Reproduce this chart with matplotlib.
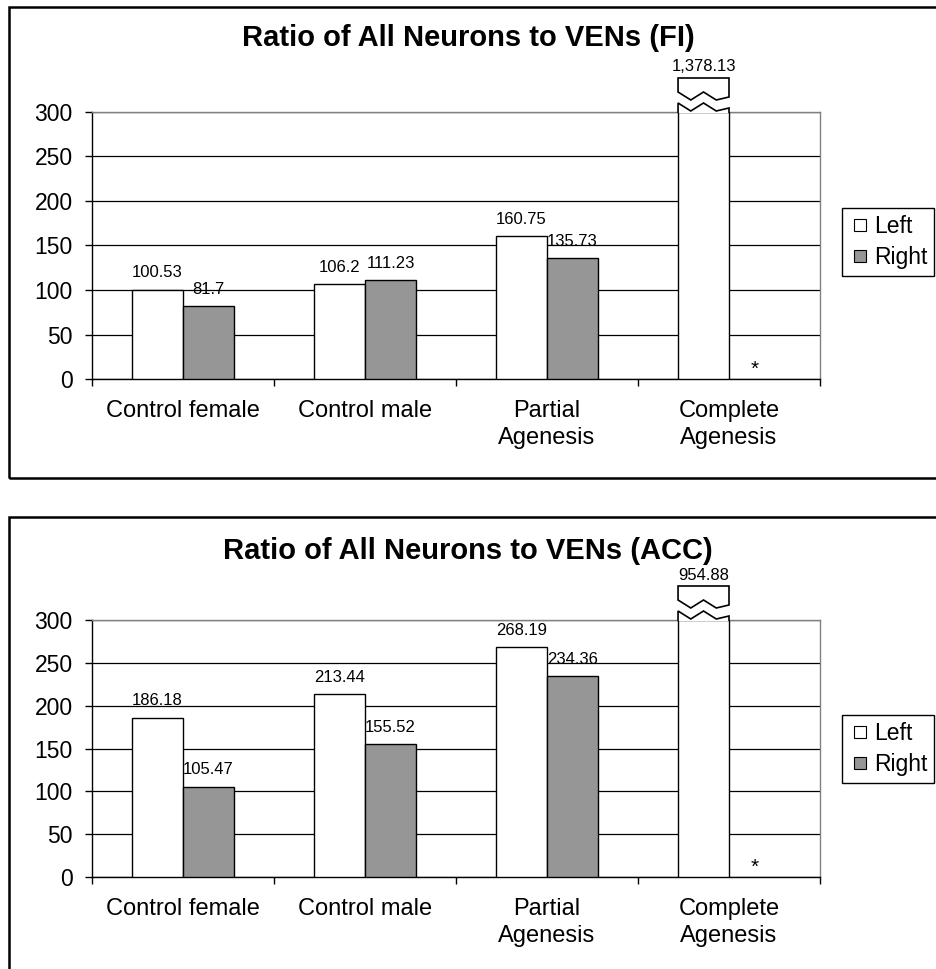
import numpy as np
import matplotlib
matplotlib.use("Agg")
import matplotlib.pyplot as plt
from matplotlib.patches import Rectangle, Polygon
from matplotlib.lines import Line2D

plt.rcParams['font.family'] = 'Liberation Sans'

# Ratio of all neurons to VENs, left / right hemisphere
categories = ["Control female", "Control male", "Partial\nAgenesis", "Complete\nAgenesis"]
fi_left = [100.53, 106.2, 160.75, 1378.13]
fi_right = [81.7, 111.23, 135.73, np.nan]
acc_left = [186.18, 213.44, 268.19, 954.88]
acc_right = [105.47, 155.52, 234.36, np.nan]
y_ticks = [0, 50, 100, 150, 200, 250, 300]

W, H = 936, 969
LEFT_COLOR = 'white'
RIGHT_COLOR = '#969696'
BAR_W = 0.28
Y_MAX = 300

fig = plt.figure(figsize=(W / 100, H / 100), dpi=100)


def px_rect(x0, x1, top, bottom):
    return [x0 / W, 1 - bottom / H, (x1 - x0) / W, (bottom - top) / H]


def draw_break(ax, xc, value, px_per_unit):
    """Bar running past the axis top: zigzag break plus a capped box."""
    u = 1.0 / px_per_unit  # data units per pixel
    x0, x1 = xc - BAR_W / 2, xc + BAR_W / 2
    n = 4
    xs = np.linspace(x0, x1, n + 1)
    # lower piece: bar continues up to the lower zigzag
    low = [Y_MAX + (9 if i % 2 == 0 else 1) * u for i in range(n + 1)]
    low[-1] = Y_MAX + 4 * u
    lower = [(x0, Y_MAX - 1 * u)] + list(zip(xs, low)) + [(x1, Y_MAX - 1 * u)]
    ax.add_patch(Polygon(lower, closed=False, facecolor='white', edgecolor='black',
                         lw=1.2, clip_on=False, zorder=4))
    # upper piece: from the upper zigzag up to a flat cap
    top_y = Y_MAX + 34 * u
    up = [Y_MAX + (20 if i % 2 == 0 else 12) * u for i in range(n + 1)]
    up[-1] = Y_MAX + 15 * u
    upper = [(x1, up[-1]), (x1, top_y), (x0, top_y), (x0, up[0])] + list(zip(xs, up))
    ax.add_patch(Polygon(upper, closed=True, facecolor='white', edgecolor='black',
                         lw=1.2, clip_on=False, zorder=4))
    ax.text(xc, top_y + 11 * u, f"{value:,}", ha='center', va='center',
            fontsize=12, clip_on=False, zorder=5)


def draw_panel(left_vals, right_vals, title, ax_px, title_y, box_top, box_bottom, legend_top):
    x0, x1, top, bottom = ax_px
    ax = fig.add_axes(px_rect(x0, x1, top, bottom))
    px_per_unit = (bottom - top) / Y_MAX
    x = np.arange(len(categories))

    for i in range(len(categories)):
        lv, rv = left_vals[i], right_vals[i]
        ax.bar(x[i] - BAR_W / 2, min(lv, Y_MAX), BAR_W, color=LEFT_COLOR,
               edgecolor='black', linewidth=1.0, zorder=3)
        if lv > Y_MAX:
            draw_break(ax, x[i] - BAR_W / 2, lv, px_per_unit)
        else:
            ax.annotate(f"{lv:,}", (x[i] - BAR_W / 2, lv), xytext=(0, 12),
                        textcoords='offset points', ha='center', va='center',
                        fontsize=12, zorder=5)
        if np.isnan(rv):
            ax.annotate("*", (x[i] + BAR_W / 2, 0), xytext=(0, 7),
                        textcoords='offset points', ha='center', va='center',
                        fontsize=15, zorder=5)
        else:
            ax.bar(x[i] + BAR_W / 2, rv, BAR_W, color=RIGHT_COLOR,
                   edgecolor='black', linewidth=1.0, zorder=3)
            ax.annotate(f"{rv:,}", (x[i] + BAR_W / 2, rv), xytext=(0, 12),
                        textcoords='offset points', ha='center', va='center',
                        fontsize=12, zorder=5)

    ax.set_xlim(-0.5, len(categories) - 0.5)
    ax.set_ylim(0, Y_MAX)
    ax.set_yticks(y_ticks)
    ax.tick_params(axis='y', direction='out', length=5, width=1.0, pad=9,
                   labelsize=16.5, colors='black')
    ax.yaxis.grid(True, color='black', linewidth=0.9, zorder=1)
    ax.set_axisbelow(True)

    # group boundaries get tick marks, group centres get labels
    ax.set_xticks(np.arange(len(categories) + 1) - 0.5)
    ax.set_xticklabels([])
    ax.tick_params(axis='x', which='major', direction='out', length=5, width=1.0)
    ax.set_xticks(x, minor=True)
    ax.set_xticklabels(categories, minor=True, fontsize=17, linespacing=1.3)
    ax.tick_params(axis='x', which='minor', length=0, pad=15)

    for side in ('left', 'bottom'):
        ax.spines[side].set_color('black')
        ax.spines[side].set_linewidth(1.0)
    for side in ('top', 'right'):
        ax.spines[side].set_color('#808080')
        ax.spines[side].set_linewidth(1.0)

    fig.text(0.5, 1 - title_y / H, title, ha='center', va='center',
             fontsize=21, fontweight='bold')

    handles = [
        Line2D([], [], marker='s', linestyle='none', markersize=8,
               markerfacecolor=LEFT_COLOR, markeredgecolor='black', markeredgewidth=0.8),
        Line2D([], [], marker='s', linestyle='none', markersize=8,
               markerfacecolor=RIGHT_COLOR, markeredgecolor='black', markeredgewidth=0.8),
    ]
    leg = fig.legend(handles, ['Left', 'Right'], loc='upper left',
                     bbox_to_anchor=(842 / W, 1 - legend_top / H), frameon=True,
                     fancybox=False, edgecolor='black', framealpha=1, fontsize=16.5,
                     borderpad=0.3, handletextpad=0.1, labelspacing=0.35,
                     handlelength=1.0, borderaxespad=0)
    leg.get_frame().set_linewidth(1.0)

    # chart area border (runs off the right edge)
    fig.add_artist(Rectangle((9 / W, 1 - box_bottom / H), 1.2, (box_bottom - box_top) / H,
                             transform=fig.transFigure, fill=False, edgecolor='black',
                             linewidth=1.8, clip_on=False))
    return ax


draw_panel(fi_left, fi_right, "Ratio of All Neurons to VENs (FI)",
           (92, 820, 112, 379), 38, 7, 478, 208)
draw_panel(acc_left, acc_right, "Ratio of All Neurons to VENs (ACC)",
           (92, 820, 620, 877), 551, 517, 1000, 715)

fig.savefig("out.png", dpi=100, facecolor='white')
